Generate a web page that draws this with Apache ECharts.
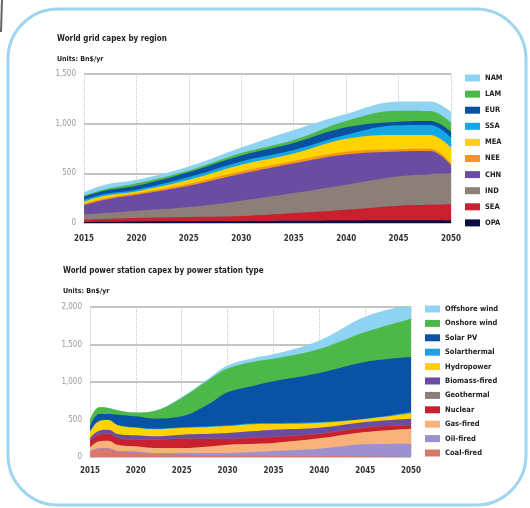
<!DOCTYPE html>
<html>
<head>
<meta charset="utf-8">
<script src="https://cdn.jsdelivr.net/npm/echarts@6/dist/echarts.min.js"></script>
<style>
  html, body { margin: 0; padding: 0; background: #fff; }
  #chart { width: 530px; height: 508px; }
</style>
</head>
<body>
<div id="chart"></div>
<script>
// World grid capex by region (Bn$/yr)
const gridYears = [2015, 2017, 2020, 2025, 2030, 2035, 2040, 2045, 2048, 2050];
const gridNames = ['OPA', 'SEA', 'IND', 'CHN', 'NEE', 'MEA', 'SSA', 'EUR', 'LAM', 'NAM'];
const OPA = [10, 12, 15, 17, 18, 22, 25, 27, 27, 25];
const SEA = [23, 28, 35, 43, 52, 78, 109, 147, 157, 165];
const IND = [51, 60, 74, 101, 155, 201, 251, 296, 308, 310];
const CHN = [96, 135, 161, 214, 271, 299, 305, 250, 233, 80];
const NEE = [12, 15, 15, 20, 25, 25, 28, 23, 22, 20];
const MEA = [23, 25, 18, 40, 65, 75, 130, 144, 140, 160];
const SSA = [20, 17, 17, 27, 34, 34, 40, 98, 100, 100];
const EUR = [30, 33, 40, 50, 60, 72, 75, 35, 40, 60];
const LAM = [10, 15, 25, 17, 24, 30, 65, 110, 100, 90];
const NAM = [35, 45, 35, 40, 55, 100, 70, 92, 97, 110];
const gridValues = [OPA, SEA, IND, CHN, NEE, MEA, SSA, EUR, LAM, NAM];
const gridColors = ['#0b0b45', '#c8202f', '#8c7f79', '#6a4ca2', '#f7941d', '#ffd200', '#12a7e8', '#0a50a0', '#4cb848', '#8fd3f3'];

// World power station capex by type (Bn$/yr)
const powerYears = [2015, 2016, 2017, 2018, 2020, 2022, 2025, 2028, 2030, 2033, 2035, 2040, 2045, 2050];
const powerNames = ['Coal-fired', 'Oil-fired', 'Gas-fired', 'Nuclear', 'Geothermal', 'Biomass-fired',
  'Hydropower', 'Solarthermal', 'Solar PV', 'Onshore wind', 'Offshore wind'];
const coal = [70, 110, 110, 70, 55, 40, 30, 22, 20, 17, 15, 12, 10, 10];
const oil = [6, 10, 10, 14, 21, 13, 23, 33, 35, 50, 65, 99, 159, 168];
const gas = [53, 89, 98, 80, 66, 67, 67, 85, 109, 110, 107, 138, 164, 200];
const nuclear = [89, 89, 93, 89, 89, 111, 124, 104, 80, 80, 80, 62, 58, 44];
const geothermal = [4, 4, 4, 4, 4, 4, 4, 4, 4, 4, 4, 4, 4, 4];
const biomass = [31, 49, 49, 50, 54, 41, 50, 62, 72, 85, 93, 76, 72, 85];
const hydro = [82, 127, 128, 117, 100, 95, 90, 90, 92, 92, 76, 64, 40, 74];
const solarThermal = [7, 6, 6, 7, 7, 7, 8, 10, 10, 12, 13, 12, 4, 15];
const solarPV = [67, 89, 75, 133, 146, 133, 146, 300, 440, 505, 556, 653, 756, 733];
const onshore = [89, 89, 80, 58, 48, 101, 245, 322, 318, 320, 302, 320, 399, 511];
const offshore = [2, 3, 3, 3, 6, 6, 13, 22, 40, 50, 58, 115, 204, 191];
const powerValues = [coal, oil, gas, nuclear, geothermal, biomass, hydro, solarThermal, solarPV, onshore, offshore];
const powerColors = ['#d9786a', '#9d90d0', '#f9b27a', '#c8202f', '#8c7f79', '#6a4ca2',
  '#ffd200', '#1da1e2', '#0a52a5', '#4cb848', '#8fd3f3'];

const FONT = "'Liberation Sans Narrow', 'DejaVu Sans Condensed', 'Liberation Sans', sans-serif";

// stack by hand: each area is filled from 0 up to its running total,
// the biggest total is drawn first so the lower layers sit on top of it
function areaSeries(names, years, values, colors, idx) {
  const running = years.map(() => 0);
  const out = names.map((n, i) => {
    const data = years.map((y, k) => {
      running[k] += values[i][k];
      return [y, running[k]];
    });
    return {
      name: n,
      type: 'line',
      xAxisIndex: idx,
      yAxisIndex: idx,
      smooth: 0.4,
      showSymbol: false,
      lineStyle: {width: 0},
      areaStyle: {color: colors[i], opacity: 1},
      itemStyle: {color: colors[i]},
      data: data
    };
  });
  return out.reverse();
}

const xAxisBase = {
  type: 'value', min: 2015, max: 2050, interval: 5,
  axisLine: {show: false}, axisTick: {show: false},
  axisLabel: {color: '#333', fontSize: 8, fontFamily: FONT, fontWeight: 'bold', formatter: v => String(v)},
  splitLine: {show: true, lineStyle: {type: 'dotted', color: '#c8c8c8', width: 1}}
};
const yAxisBase = {
  type: 'value', min: 0,
  axisLine: {show: false}, axisTick: {show: false},
  axisLabel: {color: '#9a9a9a', fontSize: 8, fontFamily: FONT, margin: 8},
  splitLine: {show: true, lineStyle: {color: '#b0b0b0', width: 1.5}}
};

const legendText = {color: '#222', fontSize: 7.5, fontFamily: FONT, fontWeight: 'bold', lineHeight: 12};
const titleText = {fontSize: 8, fontWeight: 'bold', color: '#222', fontFamily: FONT};
const unitText = {fontSize: 7, fontWeight: 'bold', color: '#222', fontFamily: FONT};

const chart = echarts.init(document.getElementById('chart'));
chart.setOption({
  animation: false,
  backgroundColor: '#fff',
  title: [
    {text: 'World grid capex by region', left: 57, top: 35, padding: 0, textStyle: titleText},
    {text: 'Units: Bn$/yr', left: 57, top: 56, padding: 0, textStyle: unitText},
    {text: 'World power station capex by power station type', left: 63, top: 267, padding: 0, textStyle: titleText},
    {text: 'Units: Bn$/yr', left: 63, top: 288, padding: 0, textStyle: unitText}
  ],
  legend: [
    {data: gridNames.slice().reverse(), orient: 'vertical', left: 465, top: 72, padding: 0,
      itemWidth: 15, itemHeight: 7, itemGap: 4.1, icon: 'rect', textStyle: legendText, selectedMode: false},
    {data: powerNames.slice().reverse(), orient: 'vertical', left: 425, top: 303, padding: 0,
      itemWidth: 15, itemHeight: 7, itemGap: 2.4, icon: 'rect', textStyle: legendText, selectedMode: false}
  ],
  grid: [
    {left: 84, right: 79, top: 74, bottom: 285},
    {left: 90, right: 119, top: 307, bottom: 51}
  ],
  xAxis: [
    Object.assign({gridIndex: 0}, xAxisBase, {axisLabel: Object.assign({}, xAxisBase.axisLabel, {margin: 12})}),
    Object.assign({gridIndex: 1}, xAxisBase, {axisLabel: Object.assign({}, xAxisBase.axisLabel, {margin: 10})})
  ],
  yAxis: [
    Object.assign({gridIndex: 0, max: 1500, interval: 500}, yAxisBase),
    Object.assign({gridIndex: 1, max: 2000, interval: 500}, yAxisBase)
  ],
  graphic: [
    {type: 'rect', shape: {x: 8, y: 9, width: 518, height: 496, r: 50},
      style: {fill: 'none', stroke: '#9fd5ee', lineWidth: 3}, z: 100},
    {type: 'line', shape: {x1: 2, y1: 0, x2: 1, y2: 32},
      style: {stroke: '#666', lineWidth: 2}, z: 100}
  ],
  series: areaSeries(gridNames, gridYears, gridValues, gridColors, 0)
    .concat(areaSeries(powerNames, powerYears, powerValues, powerColors, 1))
});
</script>
</body>
</html>
